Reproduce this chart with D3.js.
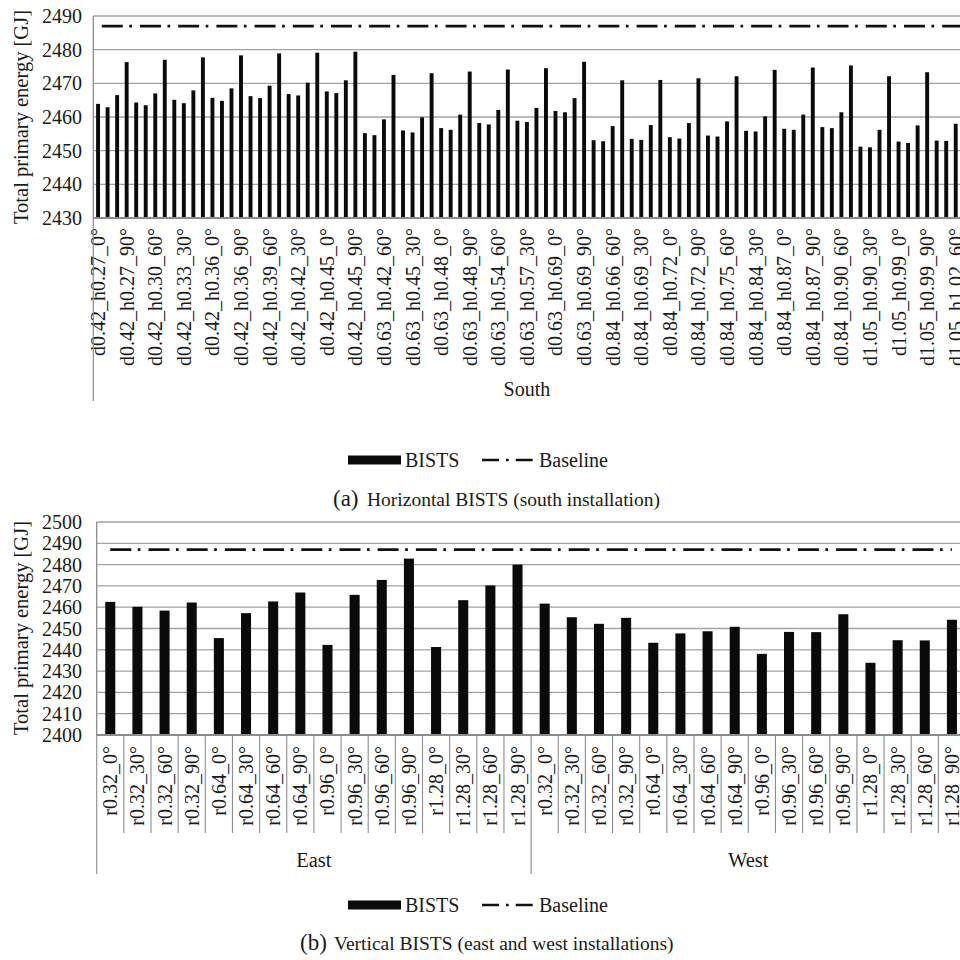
<!DOCTYPE html>
<html><head><meta charset="utf-8">
<script src="https://cdn.jsdelivr.net/npm/d3@7"></script>
<style>html,body{margin:0;padding:0;background:#fff}svg{display:block}</style>
</head><body>
<script>
// ---------- Chart (a): horizontal BISTS, south ----------
const southCategories = [
"d0.42_h0.27_0°","d0.42_h0.27_30°","d0.42_h0.27_60°","d0.42_h0.27_90°",
"d0.42_h0.30_0°","d0.42_h0.30_30°","d0.42_h0.30_60°","d0.42_h0.30_90°",
"d0.42_h0.33_0°","d0.42_h0.33_30°","d0.42_h0.33_60°","d0.42_h0.33_90°",
"d0.42_h0.36_0°","d0.42_h0.36_30°","d0.42_h0.36_60°","d0.42_h0.36_90°",
"d0.42_h0.39_0°","d0.42_h0.39_30°","d0.42_h0.39_60°","d0.42_h0.39_90°",
"d0.42_h0.42_0°","d0.42_h0.42_30°","d0.42_h0.42_60°","d0.42_h0.42_90°",
"d0.42_h0.45_0°","d0.42_h0.45_30°","d0.42_h0.45_60°","d0.42_h0.45_90°",
"d0.63_h0.42_0°","d0.63_h0.42_30°","d0.63_h0.42_60°","d0.63_h0.42_90°",
"d0.63_h0.45_0°","d0.63_h0.45_30°","d0.63_h0.45_60°","d0.63_h0.45_90°",
"d0.63_h0.48_0°","d0.63_h0.48_30°","d0.63_h0.48_60°","d0.63_h0.48_90°",
"d0.63_h0.54_0°","d0.63_h0.54_30°","d0.63_h0.54_60°","d0.63_h0.54_90°",
"d0.63_h0.57_0°","d0.63_h0.57_30°","d0.63_h0.57_60°","d0.63_h0.57_90°",
"d0.63_h0.69_0°","d0.63_h0.69_30°","d0.63_h0.69_60°","d0.63_h0.69_90°",
"d0.84_h0.66_0°","d0.84_h0.66_30°","d0.84_h0.66_60°","d0.84_h0.66_90°",
"d0.84_h0.69_0°","d0.84_h0.69_30°","d0.84_h0.69_60°","d0.84_h0.69_90°",
"d0.84_h0.72_0°","d0.84_h0.72_30°","d0.84_h0.72_60°","d0.84_h0.72_90°",
"d0.84_h0.75_0°","d0.84_h0.75_30°","d0.84_h0.75_60°","d0.84_h0.75_90°",
"d0.84_h0.84_0°","d0.84_h0.84_30°","d0.84_h0.84_60°","d0.84_h0.84_90°",
"d0.84_h0.87_0°","d0.84_h0.87_30°","d0.84_h0.87_60°","d0.84_h0.87_90°",
"d0.84_h0.90_0°","d0.84_h0.90_30°","d0.84_h0.90_60°","d0.84_h0.90_90°",
"d1.05_h0.90_0°","d1.05_h0.90_30°","d1.05_h0.90_60°","d1.05_h0.90_90°",
"d1.05_h0.99_0°","d1.05_h0.99_30°","d1.05_h0.99_60°","d1.05_h0.99_90°",
"d1.05_h1.02_0°","d1.05_h1.02_30°","d1.05_h1.02_60°"
];
const southValues = [
2463.9,2462.9,2466.5,2476.3, 2464.3,2463.5,2467.0,2477.0, 2465.1,2464.1,2467.9,2477.7,
2465.7,2464.8,2468.5,2478.3, 2466.2,2465.6,2469.3,2478.9, 2466.8,2466.4,2470.2,2479.1,
2467.6,2467.1,2470.9,2479.4,
2455.2,2454.6,2459.3,2472.5, 2456.0,2455.4,2459.9,2473.0, 2456.7,2456.2,2460.7,2473.5,
2458.2,2457.8,2462.1,2474.1, 2458.9,2458.5,2462.7,2474.5, 2461.8,2461.4,2465.6,2476.4,
2453.1,2452.8,2457.3,2470.9, 2453.5,2453.2,2457.6,2471.0, 2454.0,2453.6,2458.2,2471.5,
2454.5,2454.2,2458.7,2472.1, 2455.9,2455.7,2460.2,2474.0, 2456.5,2456.2,2460.7,2474.7,
2457.0,2456.7,2461.4,2475.3,
2451.2,2451.0,2456.2,2472.1, 2452.7,2452.3,2457.5,2473.3, 2453.0,2452.9,2458.0
];
const southTicks = [2430,2440,2450,2460,2470,2480,2490];
const southGroups = ["South"];

// ---------- Chart (b): vertical BISTS, east & west ----------
const vertCategories = ["r0.32_0°","r0.32_30°","r0.32_60°","r0.32_90°","r0.64_0°","r0.64_30°","r0.64_60°","r0.64_90°",
"r0.96_0°","r0.96_30°","r0.96_60°","r0.96_90°","r1.28_0°","r1.28_30°","r1.28_60°","r1.28_90°"];
const vertGroups = ["East","West"];
const eastValues = [2462.5,2460.2,2458.4,2462.2,2445.5,2457.2,2462.7,2466.9,2442.3,2465.8,2472.8,2482.8,2441.3,2463.3,2470.2,2480.0];
const westValues = [2461.7,2455.3,2452.2,2455.0,2443.3,2447.7,2448.7,2450.8,2438.1,2448.4,2448.3,2456.7,2433.9,2444.5,2444.4,2454.1];
const vertTicks = [2400,2410,2420,2430,2440,2450,2460,2470,2480,2490,2500];

const baselineValue = 2487;
const seriesNames = ["BISTS","Baseline"];
const yTitle = "Total primary energy [GJ]";
const captionA = ["(a)","Horizontal BISTS (south installation)"];
const captionB = ["(b)","Vertical BISTS (east and west installations)"];

const W = 960, H = 960;
const FONT = "'Liberation Serif', 'DejaVu Serif', 'Times New Roman', serif";
const svg = d3.select("body").append("svg").attr("width", W).attr("height", H)
  .attr("font-family", FONT).style("font-family", FONT);
const GRID = "#a3a3a3", AXIS = "#8c8c8c", BAR = "#0a0a0a", TXT = "#1a1a1a";
const DASH = "21,6.5,2.7,8";

function txt(g) { return g.append("text").attr("fill", TXT).style("font-family", FONT); }

function yAxisBlock(g, y, ticks, x0, x1, titleY) {
  g.selectAll(".grid").data(ticks).join("line")
    .attr("x1", x0).attr("x2", x1).attr("y1", d => y(d)).attr("y2", d => y(d))
    .attr("stroke", GRID).attr("stroke-width", 1.3);
  g.selectAll(".tl").data(ticks).join("text").attr("fill", TXT).style("font-family", FONT)
    .attr("x", 82).attr("y", d => y(d)).attr("dy", "0.35em")
    .attr("text-anchor", "end").attr("font-size", 20).text(d => d);
  g.append("line").attr("x1", x0).attr("x2", x0)
    .attr("y1", y(ticks[ticks.length-1])).attr("y2", y(ticks[0]))
    .attr("stroke", AXIS).attr("stroke-width", 1.3);
  txt(g).attr("transform", `translate(28,${titleY}) rotate(-90)`)
    .attr("text-anchor", "middle").attr("font-size", 20.5).text(yTitle);
}

function legend(g, cy) {
  g.append("rect").attr("x", 348).attr("y", cy - 4.5).attr("width", 53).attr("height", 9).attr("fill", BAR);
  txt(g).attr("x", 405).attr("y", cy).attr("dy", "0.35em").attr("font-size", 20).text(seriesNames[0]);
  g.append("line").attr("x1", 482).attr("x2", 533).attr("y1", cy).attr("y2", cy)
    .attr("stroke", "#111").attr("stroke-width", 2.7).attr("stroke-dasharray", "17,7,2.7,7");
  txt(g).attr("x", 539).attr("y", cy).attr("dy", "0.35em").attr("font-size", 20).text(seriesNames[1]);
}

function caption(g, cap, x, y, x2) {
  txt(g).attr("x", x).attr("y", y).attr("font-size", 23).text(cap[0]);
  txt(g).attr("x", x2).attr("y", y).attr("font-size", 19.5).text(cap[1]);
}

// ===== Chart (a) =====
{
  const g = svg.append("g");
  const x = d3.scaleBand().domain(southCategories).range([93.3, 960.5]).padding(0);
  const y = d3.scaleLinear().domain([2430, 2490]).range([218, 16]);
  yAxisBlock(g, y, southTicks, 93.3, 960, 117);
  const bw = x.bandwidth() * 0.41;
  g.selectAll(".bar").data(southValues).join("rect")
    .attr("x", (d, i) => x(southCategories[i]) + x.bandwidth()/2 - bw/2)
    .attr("width", bw)
    .attr("y", d => y(d)).attr("height", d => y(2430) - y(d))
    .attr("fill", BAR);
  g.append("line").attr("x1", 93.3).attr("x2", 960).attr("y1", y(2430)).attr("y2", y(2430))
    .attr("stroke", AXIS).attr("stroke-width", 2);
  const c0 = x(southCategories[0]) + x.bandwidth()/2;
  g.append("line").attr("x1", c0).attr("x2", 962).attr("y1", y(baselineValue)).attr("y2", y(baselineValue))
    .attr("stroke", "#111").attr("stroke-width", 2.7).attr("stroke-dasharray", DASH).attr("stroke-dashoffset", 34.5);
  g.selectAll(".xl").data(southCategories.filter((d, i) => i % 3 === 0)).join("text")
    .attr("fill", TXT).style("font-family", FONT)
    .attr("transform", d => `translate(${x(d) + x.bandwidth()/2},228) rotate(-90)`)
    .attr("dy", "0.35em").attr("text-anchor", "end").attr("font-size", 20).text(d => d);
  g.append("line").attr("x1", 93.3).attr("x2", 93.3).attr("y1", 218).attr("y2", 401)
    .attr("stroke", AXIS).attr("stroke-width", 1.2);
  txt(g).attr("x", (93.3 + 960.5)/2).attr("y", 396).attr("text-anchor", "middle")
    .attr("font-size", 20).text(southGroups[0]);
  legend(g, 460);
  caption(g, captionA, 333, 506, 367);
}

// ===== Chart (b) =====
{
  const g = svg.append("g");
  const allKeys = [];
  vertGroups.forEach(gr => vertCategories.forEach(c => allKeys.push(gr + "|" + c)));
  const allVals = eastValues.concat(westValues);
  const x = d3.scaleBand().domain(allKeys).range([96.7, 965.5]).padding(0);
  const y = d3.scaleLinear().domain([2400, 2500]).range([735, 522]);
  yAxisBlock(g, y, vertTicks, 96.7, 960, 628);
  const bw = x.bandwidth() * 0.37;
  g.selectAll(".bar").data(allVals).join("rect")
    .attr("x", (d, i) => x(allKeys[i]) + x.bandwidth()/2 - bw/2)
    .attr("width", bw)
    .attr("y", d => y(d)).attr("height", d => y(2400) - y(d))
    .attr("fill", BAR);
  g.append("line").attr("x1", 96.7).attr("x2", 960).attr("y1", y(2400)).attr("y2", y(2400))
    .attr("stroke", AXIS).attr("stroke-width", 2);
  const c0 = x(allKeys[0]) + x.bandwidth()/2;
  const c1 = x(allKeys[allKeys.length-1]) + x.bandwidth()/2;
  g.append("line").attr("x1", c0).attr("x2", c1).attr("y1", y(baselineValue)).attr("y2", y(baselineValue))
    .attr("stroke", "#111").attr("stroke-width", 2.7).attr("stroke-dasharray", DASH).attr("stroke-dashoffset", 0);
  g.selectAll(".sep").data(allKeys).join("line")
    .attr("x1", d => x(d)).attr("x2", d => x(d)).attr("y1", 735)
    .attr("y2", (d, i) => i % 16 === 0 ? 874 : 833)
    .attr("stroke", AXIS).attr("stroke-width", 1.1);
  g.selectAll(".xl").data(allKeys).join("text")
    .attr("fill", TXT).style("font-family", FONT)
    .attr("transform", d => `translate(${x(d) + x.bandwidth()/2},746) rotate(-90)`)
    .attr("dy", "0.35em").attr("text-anchor", "end").attr("font-size", 20).text(d => d.split("|")[1]);
  vertGroups.forEach(gr => {
    const a = x(gr + "|" + vertCategories[0]);
    const b = x(gr + "|" + vertCategories[vertCategories.length-1]) + x.bandwidth();
    txt(g).attr("x", (a + b)/2).attr("y", 867).attr("text-anchor", "middle")
      .attr("font-size", 20.5).text(gr);
  });
  legend(g, 905);
  caption(g, captionB, 300, 950, 334);
}
</script>
</body></html>
